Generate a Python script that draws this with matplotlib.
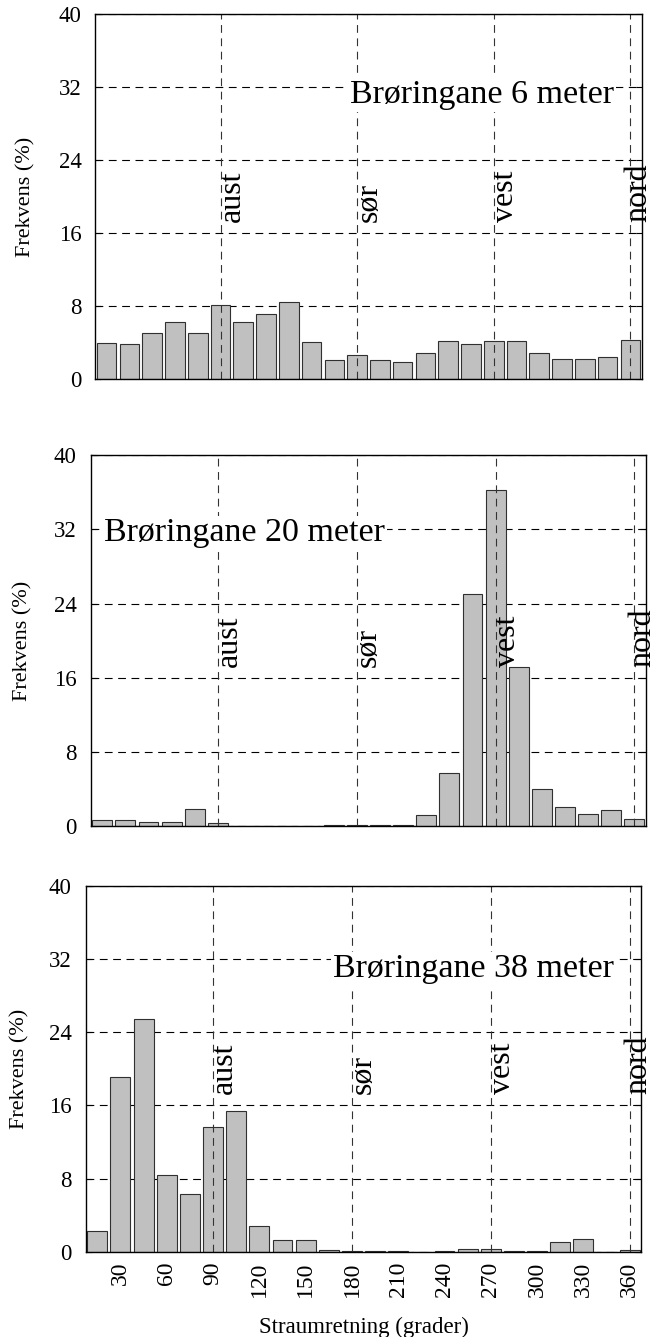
import numpy as np
import matplotlib
matplotlib.use("Agg")
import matplotlib.pyplot as plt

plt.rcParams['font.family'] = ['Liberation Serif', 'DejaVu Serif']

# retning i 15-graders klasser, 24 klasser
tick_labels = ['30', '60', '90', '120', '150', '180', '210', '240', '270', '300', '330', '360']
dir_names = ['aust', 'sør', 'vest', 'nord']
dir_pos = [6, 12, 18, 24]

frek_6m = [3.9, 3.8, 5.1, 6.2, 5.1, 8.1, 6.3, 7.1, 8.4, 4.1, 2.1, 2.6,
           2.1, 1.9, 2.9, 4.2, 3.8, 4.2, 4.2, 2.8, 2.2, 2.2, 2.4, 4.3]
frek_20m = [0.7, 0.6, 0.4, 0.4, 1.8, 0.3, 0.05, 0.05, 0.05, 0.05, 0.08, 0.08,
            0.08, 0.08, 1.2, 5.7, 25.0, 36.3, 17.2, 4.0, 2.1, 1.3, 1.7, 0.8]
frek_38m = [2.3, 19.1, 25.4, 8.4, 6.3, 13.6, 15.4, 2.8, 1.3, 1.3, 0.25, 0.1,
            0.1, 0.1, 0.0, 0.1, 0.35, 0.35, 0.1, 0.1, 1.05, 1.45, 0.0, 0.25]

titles = ['Brøringane 6 meter', 'Brøringane 20 meter', 'Brøringane 38 meter']
title_x = [11.7, 1.08, 11.17]
title_y = [31.2, 31.6, 30.9]
series = [frek_6m, frek_20m, frek_38m]

W, H = 656, 1337
# axes i pikslar: venstre, hogre, topp, botn
boxes = [(95.3, 641.7, 14.3, 379), (90.7, 646, 455.3, 826), (85.7, 641.3, 885.7, 1252)]
ylab_x = [-0.109, -0.104, -0.101]

fig = plt.figure(figsize=(W / 100, H / 100), dpi=100)
x = np.arange(1, 25)

for i in range(3):
    l, r, t, b = boxes[i]
    ax = fig.add_axes([l / W, 1 - b / H, (r - l) / W, (b - t) / H])
    ax.set_axisbelow(True)
    ax.bar(x, series[i], width=0.86, color='#c0c0c0', edgecolor='#303030', linewidth=0.8, zorder=2)
    ax.set_xlim(0.5, 24.5)
    ax.set_ylim(0, 40)
    ax.set_yticks([0, 8, 16, 24, 32, 40])
    ax.yaxis.grid(True, color='black', linestyle=(0, (7, 5)), linewidth=0.8)
    for p in dir_pos:
        ax.axvline(p, color='#333333', linestyle=(0, (7, 5)), linewidth=0.8, zorder=3)
    for name, p in zip(dir_names, dir_pos):
        dx = 0.25 if name == 'nord' else 0.12
        ax.text(p - dx, 17.2, name, rotation=90, ha='left', va='bottom', fontsize=23, zorder=4)
    ax.text(title_x[i], title_y[i], titles[i], ha='left', va='center', fontsize=24.5, zorder=5,
            bbox=dict(facecolor='white', edgecolor='none', pad=1.5))
    ax.tick_params(axis='y', direction='in', length=4, right=True, labelsize=16.5, pad=10)
    ax.set_ylabel('Frekvens (%)', fontsize=16)
    ax.yaxis.set_label_coords(ylab_x[i], 0.5)
    ax.set_xticks(x[1::2])
    if i == 2:
        ax.set_xticklabels(tick_labels, rotation=90, fontsize=17)
        ax.tick_params(axis='x', length=0, pad=7)
    else:
        ax.set_xticklabels([])
        ax.tick_params(axis='x', length=0)
    for s in ax.spines.values():
        s.set_linewidth(1.0)
        s.set_zorder(6)

fig.text(363.5 / W, 1 - 1317 / H, 'Straumretning (grader)', ha='center', va='top', fontsize=16.5)

fig.savefig('out.png', dpi=100)
